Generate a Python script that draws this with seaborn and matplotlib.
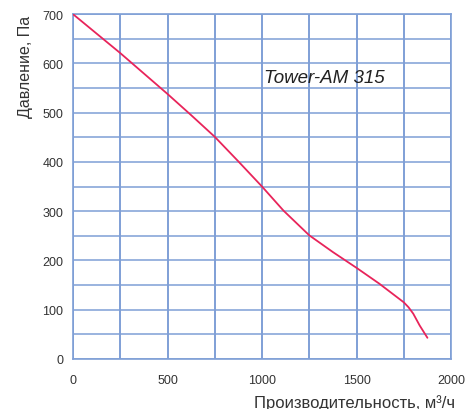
import seaborn as sns
import matplotlib.pyplot as plt
import pandas as pd

# fan curve
flow = [0, 250, 500, 625, 750, 875, 1000, 1114, 1250, 1375, 1500, 1620,
        1750, 1775, 1800, 1834, 1875]
pressure = [700, 621, 538, 495, 451, 401, 350, 301, 251, 217, 185, 153,
            115, 105, 92, 68, 43]

x_ticks = [0, 500, 1000, 1500, 2000]
y_ticks = [0, 100, 200, 300, 400, 500, 600, 700]
model = "Tower-AM 315"

grid_color = "#7f9fd6"
curve_color = "#e8245a"

df = pd.DataFrame({"flow": flow, "pressure": pressure})

sns.set_style("white")
plt.rcParams['font.family'] = ['Liberation Sans', 'DejaVu Sans']

fig = plt.figure(figsize=(4.65, 4.1), dpi=100)
ax = fig.add_axes([0.157, 0.122, 0.813, 0.841])

sns.lineplot(data=df, x="flow", y="pressure", ax=ax, color=curve_color,
             linewidth=1.3, sort=False, zorder=3)

ax.set_xlim(0, 2000)
ax.set_ylim(0, 700)
ax.set_xticks(x_ticks)
ax.set_yticks(y_ticks)
ax.set_xticks(range(0, 2001, 250), minor=True)
ax.set_yticks(range(0, 701, 50), minor=True)
ax.grid(which="both", axis="x", color=grid_color, linewidth=1.4)
ax.grid(which="both", axis="y", color=grid_color, linewidth=1.1)
ax.tick_params(which="major", length=3, color=grid_color, labelsize=9,
               labelcolor="#333333", direction="out", pad=4)
ax.tick_params(which="minor", length=0)
ax.tick_params(axis="x", pad=8)
for s in ax.spines.values():
    s.set_color(grid_color)
    s.set_linewidth(1.2)

ax.set_xlabel("Производительность, м³/ч", fontsize=12, color="#333333")
ax.xaxis.set_label_coords(0.746, -0.102)
ax.set_ylabel("Давление, Па", fontsize=11.5, color="#333333")
ax.yaxis.set_label_coords(-0.106, 0.849)

ax.text(1010, 572, model, fontsize=13.5, fontstyle="italic", color="#222222",
        va="center", ha="left", zorder=4)

fig.savefig("out.png", dpi=100)
